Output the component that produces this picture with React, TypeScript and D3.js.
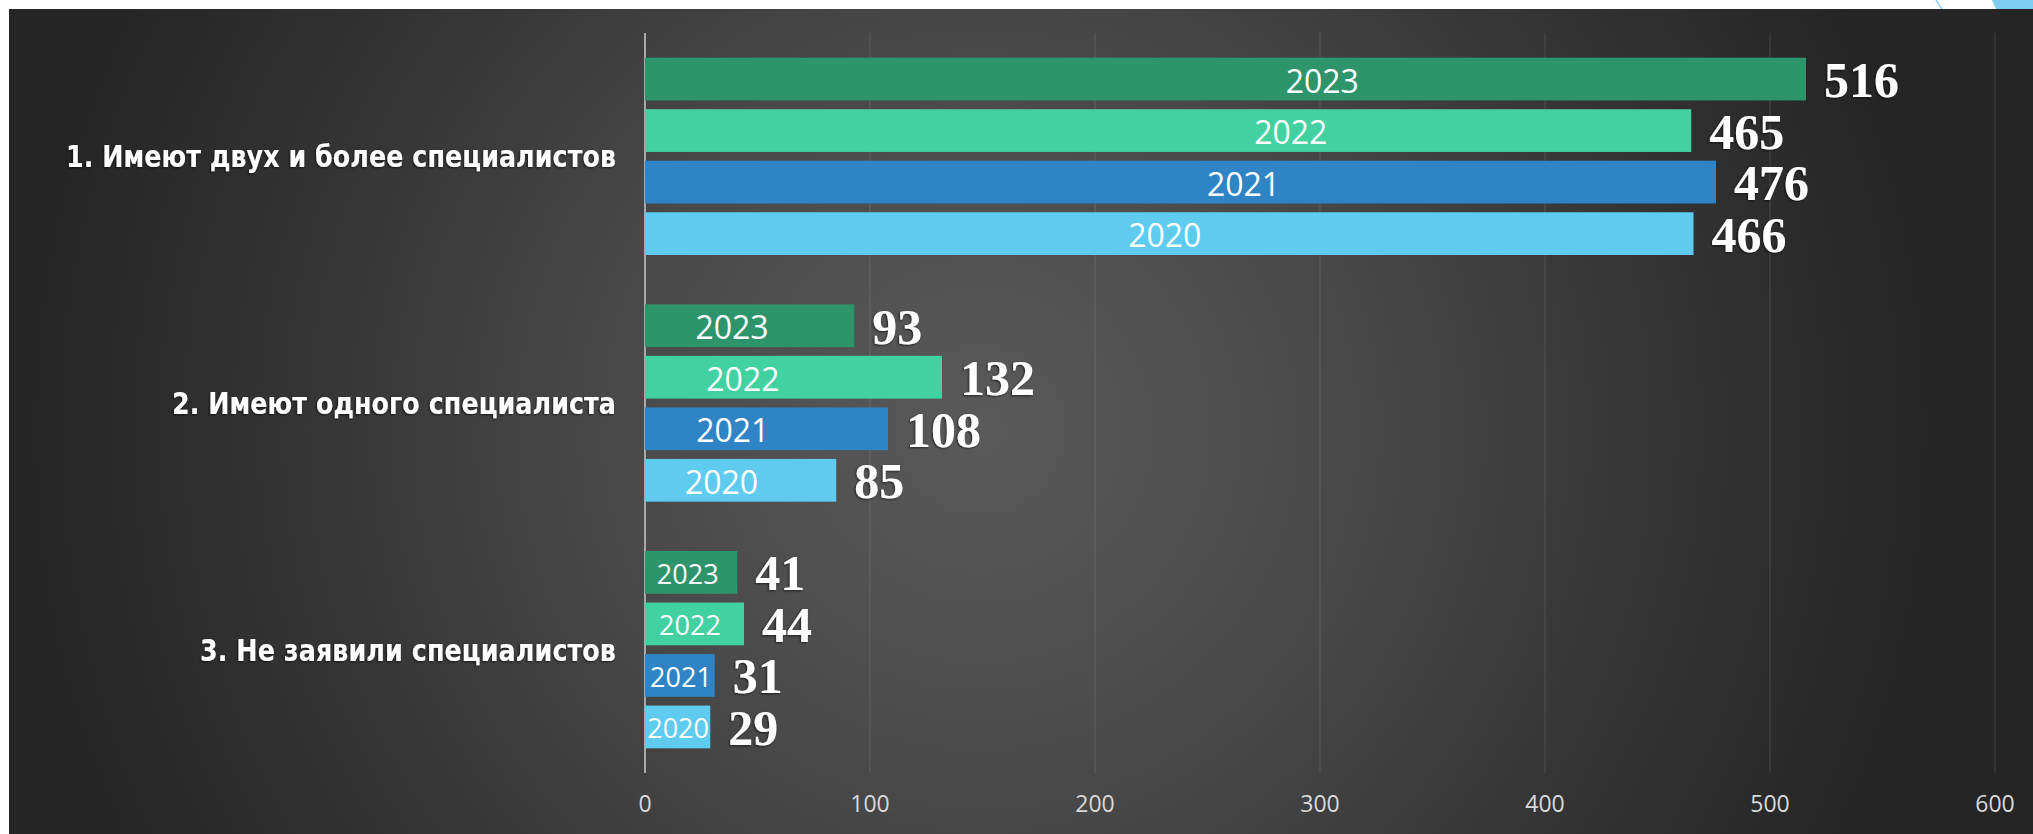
import React from 'react';
import * as d3 from 'd3';

const categories = [
  '1. Имеют двух и более специалистов',
  '2. Имеют одного специалиста',
  '3. Не заявили специалистов',
];
const years = ['2023', '2022', '2021', '2020'];
const values2023 = [516, 93, 41];
const values2022 = [465, 132, 44];
const values2021 = [476, 108, 31];
const values2020 = [466, 85, 29];
// where each year label sits inside its bar, in value units
const yearLabelAt2023 = [301, 38.7, 19];
const yearLabelAt2022 = [287, 43.5, 20];
const yearLabelAt2021 = [266, 39, 16];
const yearLabelAt2020 = [231, 34, 14.7];
const xTicks = [0, 100, 200, 300, 400, 500, 600];

const seriesValues: Record<string, number[]> = {
  '2023': values2023,
  '2022': values2022,
  '2021': values2021,
  '2020': values2020,
};
const seriesLabelAt: Record<string, number[]> = {
  '2023': yearLabelAt2023,
  '2022': yearLabelAt2022,
  '2021': yearLabelAt2021,
  '2020': yearLabelAt2020,
};
const colors: Record<string, string> = {
  '2023': '#2E946C',
  '2022': '#42D1A1',
  '2021': '#2E84C4',
  '2020': '#5ECBEF',
};

const W = 2033;
const H = 834;

export default function App() {
  const x = d3.scaleLinear().domain([0, 600]).range([645, 1995]);
  const y0 = d3.scaleBand<string>().domain(categories).range([33, 773]).paddingInner(0.2).paddingOuter(0.1);
  const y1 = d3.scaleBand<string>().domain(years).range([0, y0.bandwidth()]).paddingInner(0.17);
  const catLabelWidths = [550, 444, 416];

  return (
    <svg width={W} height={H} style={{ position: 'absolute', left: 0, top: 0 }}>
      <defs>
        <radialGradient id="bg" gradientUnits="userSpaceOnUse" cx={980} cy={430} r={960}>
          <stop offset="0" stopColor="#5a5a5a" />
          <stop offset="0.4" stopColor="#484848" />
          <stop offset="0.7" stopColor="#353535" />
          <stop offset="1" stopColor="#252525" />
        </radialGradient>
        <filter id="sh" x="-20%" y="-20%" width="140%" height="140%">
          <feDropShadow dx="-1" dy="1" stdDeviation="1" floodColor="#000" floodOpacity="0.6" />
        </filter>
      </defs>
      <rect x={0} y={0} width={W} height={H} fill="#ffffff" />
      <path d="M1936,0 L1942,9" stroke="#8fd4f2" strokeWidth={1.5} fill="none" />
      <path d="M1992,0 L2033,0 L2033,9 L1996,9 Z" fill="#7fcdf0" />
      <rect x={9} y={9} width={W - 9} height={H - 9} fill="url(#bg)" />

      {/* gridlines */}
      {xTicks.map((t) => (
        <line key={t} x1={x(t)} x2={x(t)} y1={33} y2={773}
          stroke={t === 0 ? '#a8a8a8' : 'rgba(255,255,255,0.13)'} strokeWidth={t === 0 ? 2 : 1} />
      ))}
      {xTicks.map((t) => (
        <text key={'l' + t} x={x(t)} y={803} textAnchor="middle" dominantBaseline="central"
          fill="#d9d9d9" fontFamily="'Open Sans', sans-serif" fontSize={23}>{t}</text>
      ))}

      {/* category labels */}
      {categories.map((c, i) => (
        <text key={c} x={616} y={(y0(c) as number) + y0.bandwidth() / 2} textAnchor="end"
          dominantBaseline="central" fill="#ffffff" fontFamily="'DejaVu Sans', sans-serif"
          fontWeight="bold" fontSize={31} textLength={catLabelWidths[i]} lengthAdjust="spacingAndGlyphs"
          filter="url(#sh)">{c}</text>
      ))}

      {/* bars */}
      {categories.map((c, ci) => (
        <g key={c} transform={`translate(0,${y0(c)})`}>
          {years.map((yr) => {
            const v = seriesValues[yr][ci];
            const by = y1(yr) as number;
            const bh = y1.bandwidth();
            const small = ci === 2;
            return (
              <g key={yr}>
                <rect x={x(0)} y={by} width={x(v) - x(0)} height={bh} fill={colors[yr]} />
                <text x={x(seriesLabelAt[yr][ci])} y={by + bh / 2 + 1} textAnchor="middle"
                  dominantBaseline="central" fill="#ffffff" fontFamily="'Open Sans', sans-serif"
                  fontSize={small ? 27 : 32}>{yr}</text>
                <text x={x(v) + 18} y={by + bh / 2 + 1} dominantBaseline="central" fill="#ffffff"
                  fontFamily="'Liberation Serif', 'Times New Roman', serif" fontWeight="bold" fontSize={50}
                  filter="url(#sh)">{v}</text>
              </g>
            );
          })}
        </g>
      ))}
    </svg>
  );
}
